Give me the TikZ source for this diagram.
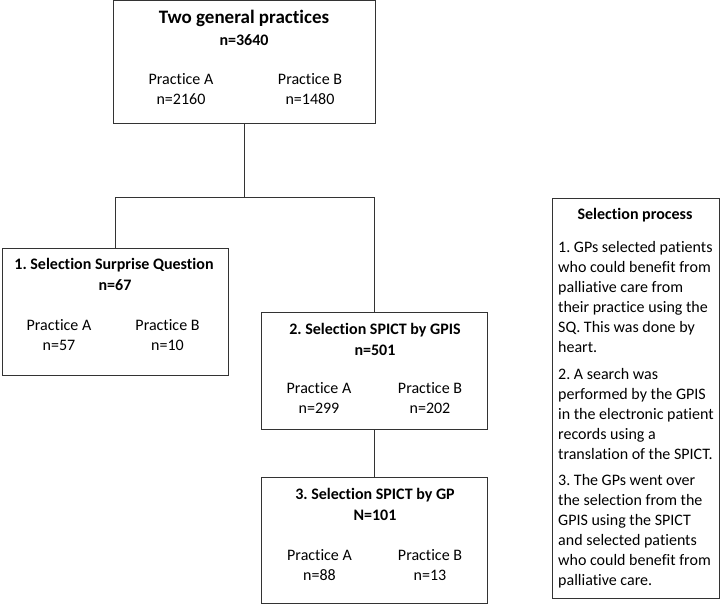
\documentclass[tikz,border=0pt]{standalone}
\usepackage{fontspec}
\setmainfont{Carlito}[Ligatures=NoCommon]
\usetikzlibrary{positioning, calc}
\frenchspacing

\tikzset{
  stagebox/.style={draw=black!80, line width=1pt, minimum width=226pt, inner sep=0pt},
  link/.style={draw=black!80, line width=0.8pt},
  stagetitle/.style={font=\fontsize{16}{20}\selectfont\bfseries},
  count/.style={align=center, font=\fontsize{16}{20}\selectfont}
}

\begin{document}
\begin{tikzpicture}[x=1pt, y=1pt]
\useasboundingbox (0,0) rectangle (720,606);

% Whole population
\node[stagebox, minimum width=262pt, minimum height=123pt] (pop) at (244,543.5) {};
\node[font=\fontsize{19}{22}\selectfont\bfseries] (popT) at (244,588) {Two general practices};
\node[stagetitle] (popN) at (244,566) {n=3640};
\node[count] (popA) at (181,516.5) {Practice A\\n=2160};
\node[count] (popB) at (310,516.5) {Practice B\\n=1480};

% 1. Surprise question
\node[stagebox, minimum height=126pt] (sq) at (115,294) {};
\node[stagetitle] (sqT) at (114,341) {1. Selection Surprise Question};
\node[stagetitle] (sqN) at (115,321) {n=67};
\node[count] (sqA) at (59,270.5) {Practice A\\n=57};
\node[count] (sqB) at (167.5,270.5) {Practice B\\n=10};

% 2. SPICT by GPIS
\node[stagebox, minimum height=117pt] (gpis) at (374,235.5) {};
\node[stagetitle] (gpisT) at (375,276) {2. Selection SPICT by GPIS};
\node[stagetitle] (gpisN) at (375,256) {n=501};
\node[count] (gpisA) at (319,208) {Practice A\\n=299};
\node[count] (gpisB) at (430,208) {Practice B\\n=202};

% 3. SPICT by GP
\node[stagebox, minimum height=126pt] (gp) at (374,66) {};
\node[stagetitle] (gpT) at (375,111) {3. Selection SPICT by GP};
\node[stagetitle] (gpN) at (375,91) {N=101};
\node[count] (gpA) at (319.5,41) {Practice A\\n=88};
\node[count] (gpB) at (430,41) {Practice B\\n=13};

% Connectors
\draw[link] (pop.south) -- ++(0,-73) coordinate (split);
\draw[link] (sq.north) |- (split) -| (gpis.north);
\draw[link] (gpis.south) -- (gp.north);

% Legend box
\node[stagebox, minimum width=167pt, minimum height=399pt] (legend) at (635.5,207.5) {};
\node[stagetitle] (legendT) at (635,391) {Selection process};
\node[anchor=north west, align=left, inner sep=0pt, font=\fontsize{16}{20}\selectfont] (notes) at (558,364.5) {%
1. GPs selected patients\\who could benefit from\\palliative care from\\their practice using the\\SQ. This was done by\\heart.\\[6.5pt]%
2. A search was\\performed by the GPIS\\in the electronic patient\\records using a\\translation of the SPICT.\\[6.5pt]%
3. The GPs went over\\the selection from the\\GPIS using the SPICT\\and selected patients\\who could benefit from\\palliative care.};

\end{tikzpicture}
\end{document}
